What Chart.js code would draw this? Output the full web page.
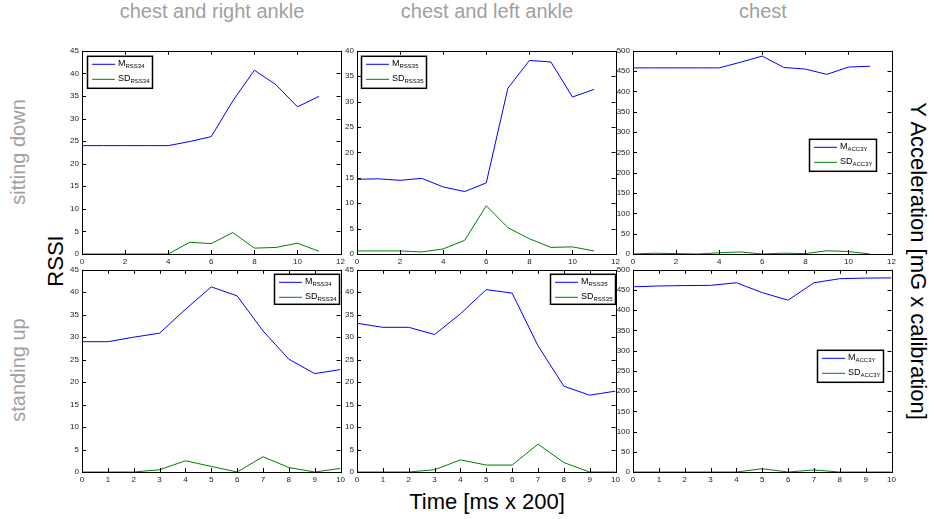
<!DOCTYPE html>
<html>
<head>
<meta charset="utf-8">
<script src="https://cdn.jsdelivr.net/npm/chart.js@4"></script>
<style>
  body { margin: 0; background: #fff; }
  #wrap { position: relative; width: 940px; height: 519px; overflow: hidden; font-family: "Liberation Sans", Arial, sans-serif; }
  canvas { position: absolute; }
  .lbl { position: absolute; white-space: nowrap; }
  .col { color: #a0a0a0; font-size: 20px; top: 0; transform: translateX(-50%); }
  .row { color: #a0a0a0; font-size: 20px; transform: translate(-50%, -50%) rotate(-90deg); }
</style>
</head>
<body>
<div id="wrap">
  <div class="lbl col" style="left:212px;">chest and right ankle</div>
  <div class="lbl col" style="left:487px;">chest and left ankle</div>
  <div class="lbl col" style="left:763px;">chest</div>
  <div class="lbl row" style="left:18px; top:152px;">sitting down</div>
  <div class="lbl row" style="left:18px; top:370px;">standing up</div>
  <div class="lbl" style="left:56px; top:261px; font-size:22px; color:#000; transform:translate(-50%,-50%) rotate(-90deg);">RSSI</div>
  <div class="lbl" style="left:918px; top:261px; font-size:22px; color:#000; transform:translate(-50%,-50%) rotate(90deg);">Y Acceleration [mG x calibration]</div>
  <div class="lbl" style="left:487px; top:489px; font-size:22px; color:#000; transform:translateX(-50%);">Time [ms x 200]</div>
</div>
<script>
// time steps
const timeSit = [0, 1, 2, 3, 4, 5, 6, 7, 8, 9, 10, 11];
const timeStand = [0, 1, 2, 3, 4, 5, 6, 7, 8, 9, 10];

// sitting down
const sitRightM = [24, 24, 24, 24, 24, 24.9, 26.0, 33.9, 40.7, 37.5, 32.6, 34.9];
const sitRightSD = [0, 0, 0, 0, 0, 2.6, 2.3, 4.75, 1.3, 1.45, 2.4, 0.6];
const sitLeftM = [14.7, 14.8, 14.5, 14.9, 13.2, 12.3, 14.0, 32.6, 38.1, 37.8, 30.9, 32.4];
const sitLeftSD = [0.6, 0.6, 0.6, 0.4, 1.0, 2.7, 9.5, 5.2, 3.0, 1.3, 1.4, 0.6];
const sitChestM = [458, 458, 458, 458, 458, 472, 487, 459, 455, 442, 460, 462];
const sitChestSD = [0, 2, 1, 0, 3, 5, 0, 2, 1, 8, 6, 0];

// standing up
const standRightM = [29.0, 29.0, 30.0, 30.9, 36.2, 41.2, 39.2, 31.4, 25.1, 21.9, 22.8];
const standRightSD = [0, 0, 0, 0.5, 2.5, 1.25, 0, 3.4, 1.0, 0, 0.8];
const standLeftM = [33.1, 32.2, 32.2, 30.6, 35.2, 40.6, 39.8, 28.1, 19.1, 17.1, 18.0];
const standLeftSD = [0, 0, 0, 0.5, 2.7, 1.55, 1.55, 6.2, 2.1, 0, 0];
const standChestM = [458, 460, 461, 461.5, 468, 443.5, 425, 468, 478, 479.5, 480];
const standChestSD = [0, 0, 0, 0, 0, 8, 0, 5, 0, 0, 0];

const PAD_L = 25, PAD_T = 6, PAD_R = 6, PAD_B = 16;
const FONT = '"Liberation Sans", Arial, sans-serif';

// box with inward ticks on all four sides
const boxPlugin = {
  id: 'boxTicks',
  afterDraw(chart) {
    const { ctx, chartArea: a, scales } = chart;
    ctx.save();
    ctx.strokeStyle = '#000';
    ctx.lineWidth = 1;
    ctx.strokeRect(Math.round(a.left) + 0.5, Math.round(a.top) + 0.5,
      Math.round(a.right - a.left), Math.round(a.bottom - a.top));
    ctx.beginPath();
    scales.x.ticks.forEach(t => {
      const px = Math.round(scales.x.getPixelForValue(t.value)) + 0.5;
      ctx.moveTo(px, a.bottom); ctx.lineTo(px, a.bottom - 4);
      ctx.moveTo(px, a.top); ctx.lineTo(px, a.top + 4);
    });
    scales.y.ticks.forEach(t => {
      const py = Math.round(scales.y.getPixelForValue(t.value)) + 0.5;
      ctx.moveTo(a.left, py); ctx.lineTo(a.left + 4, py);
      ctx.moveTo(a.right, py); ctx.lineTo(a.right - 4, py);
    });
    ctx.stroke();
    ctx.restore();
  }
};

// legend with subscripts
const subLegend = {
  id: 'subLegend',
  afterDraw(chart, args, opts) {
    const { ctx, chartArea: a } = chart;
    const x = a.left + opts.x, y = a.top + opts.y;
    ctx.save();
    ctx.fillStyle = '#fff';
    ctx.fillRect(x, y, opts.w, opts.h);
    ctx.strokeStyle = '#000';
    ctx.lineWidth = 1.5;
    ctx.strokeRect(x + 0.5, y + 0.5, opts.w, opts.h);
    chart.data.datasets.forEach((ds, i) => {
      const ry = y + 8 + i * 15;
      ctx.strokeStyle = ds.borderColor;
      ctx.lineWidth = 1;
      ctx.beginPath();
      ctx.moveTo(x + 5, ry + 0.5);
      ctx.lineTo(x + 28, ry + 0.5);
      ctx.stroke();
      ctx.fillStyle = '#000';
      ctx.textBaseline = 'middle';
      ctx.font = '9px ' + FONT;
      ctx.fillText(ds.label, x + 31, ry);
      const w = ctx.measureText(ds.label).width;
      ctx.font = '6px ' + FONT;
      ctx.fillText(opts.sub, x + 31 + w, ry + 3);
    });
    ctx.restore();
  }
};

const panels = [
  { left: 82, top: 49, w: 260, h: 205, time: timeSit, m: sitRightM, sd: sitRightSD, ymax: 45, ystep: 5, xmax: 12, xstep: 2, sub: 'RSS34', lg: { x: 5, y: 5, w: 65, h: 32 } },
  { left: 357, top: 49, w: 260, h: 205, time: timeSit, m: sitLeftM, sd: sitLeftSD, ymax: 40, ystep: 5, xmax: 12, xstep: 2, sub: 'RSS35', lg: { x: 4, y: 5, w: 65, h: 32 } },
  { left: 633, top: 49, w: 260, h: 205, time: timeSit, m: sitChestM, sd: sitChestSD, ymax: 500, ystep: 50, xmax: 12, xstep: 2, sub: 'ACC3Y', lg: { x: 176, y: 88, w: 67, h: 32 } },
  { left: 82, top: 268, w: 260, h: 204, time: timeStand, m: standRightM, sd: standRightSD, ymax: 45, ystep: 5, xmax: 10, xstep: 1, sub: 'RSS34', lg: { x: 192, y: 4, w: 65, h: 30 } },
  { left: 357, top: 268, w: 260, h: 204, time: timeStand, m: standLeftM, sd: standLeftSD, ymax: 45, ystep: 5, xmax: 10, xstep: 1, sub: 'RSS35', lg: { x: 193, y: 4, w: 65, h: 30 } },
  { left: 633, top: 268, w: 260, h: 204, time: timeStand, m: standChestM, sd: standChestSD, ymax: 500, ystep: 50, xmax: 10, xstep: 1, sub: 'ACC3Y', lg: { x: 184, y: 80, w: 66, h: 32 } }
];

const wrap = document.getElementById('wrap');

panels.forEach(p => {
  const canvas = document.createElement('canvas');
  canvas.width = p.w + PAD_L + PAD_R;
  canvas.height = p.h + PAD_T + PAD_B;
  canvas.style.left = (p.left - PAD_L) + 'px';
  canvas.style.top = (p.top - PAD_T) + 'px';
  wrap.appendChild(canvas);

  new Chart(canvas.getContext('2d'), {
    type: 'line',
    data: {
      datasets: [
        {
          label: 'M',
          data: p.m.map((v, i) => ({ x: p.time[i], y: v })),
          borderColor: '#0000ff',
          borderWidth: 1,
          pointRadius: 0,
          tension: 0,
        },
        {
          label: 'SD',
          data: p.sd.map((v, i) => ({ x: p.time[i], y: v })),
          borderColor: '#008000',
          borderWidth: 1,
          pointRadius: 0,
          tension: 0,
        },
      ],
    },
    options: {
      responsive: false,
      animation: false,
      devicePixelRatio: 1,
      layout: { padding: { top: PAD_T, right: PAD_R, left: 0, bottom: 0 } },
      plugins: {
        legend: { display: false },
        tooltip: { enabled: false },
        subLegend: Object.assign({ sub: p.sub }, p.lg),
      },
      scales: {
        x: {
          type: 'linear',
          min: 0,
          max: p.xmax,
          grid: { display: false, drawTicks: false },
          border: { display: false },
          ticks: { stepSize: p.xstep, autoSkip: false, maxRotation: 0, padding: 3, color: '#222', font: { size: 8, family: FONT } },
          afterFit: (s) => { s.height = PAD_B; },
        },
        y: {
          min: 0,
          max: p.ymax,
          grid: { display: false, drawTicks: false },
          border: { display: false },
          ticks: { stepSize: p.ystep, padding: 3, color: '#222', font: { size: 8, family: FONT } },
          afterFit: (s) => { s.width = PAD_L; },
        },
      },
    },
    plugins: [boxPlugin, subLegend],
  });
});
</script>
</body>
</html>
